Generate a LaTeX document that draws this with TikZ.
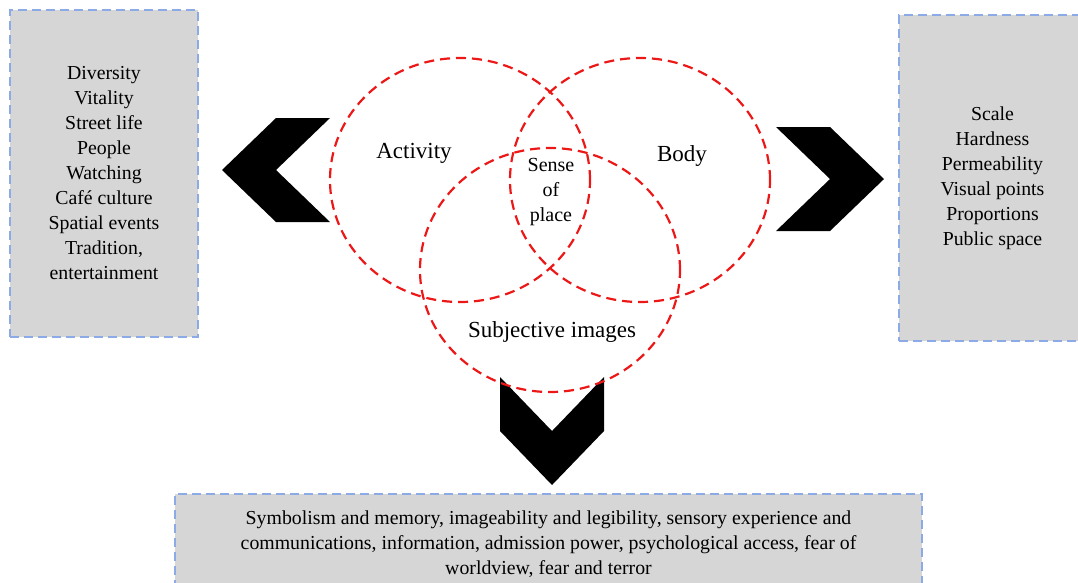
\documentclass[tikz,border=0pt]{standalone}
\usepackage{fontspec}
\setmainfont{Liberation Serif}
\usetikzlibrary{shapes.geometric}
\definecolor{boxgray}{RGB}{214,214,214}
\definecolor{boxblue}{RGB}{140,170,230}
\definecolor{ringred}{RGB}{236,24,24}
\tikzset{
  infobox/.style={draw=boxblue,fill=boxgray,line width=1.4pt,dash pattern=on 9pt off 5pt,inner sep=0pt,align=center,font=\fontsize{19.8}{25}\selectfont},
  ring/.style={ellipse,draw=ringred,line width=2.2pt,dash pattern=on 10pt off 6pt,minimum width=260pt,minimum height=244pt,inner sep=0pt},
  biglabel/.style={font=\fontsize{23}{27}\selectfont,align=center},
  smalllabel/.style={font=\fontsize{20}{25}\selectfont,align=center},
  pics/chevron/.style={code={
    \fill (0,0) -- (54,-52) -- (108,-52) -- (54,0) -- (108,52) -- (54,52) -- cycle;}}
}

\begin{document}
\begin{tikzpicture}[x=1pt,y=-1pt]
\useasboundingbox (0,0) rectangle (1078,582);
\clip (0,0) rectangle (1078,582);
% side and bottom boxes
\node[infobox,minimum width=188pt,minimum height=327pt] (activitybox) at (104,173.5)
  {Diversity\\Vitality\\Street life\\People\\Watching\\Café culture\\Spatial events\\Tradition,\\entertainment};
\node[infobox,minimum width=187pt,minimum height=326pt] (bodybox) at (992.5,178)
  {Scale\\Hardness\\Permeability\\Visual points\\Proportions\\Public space};
\node[infobox,minimum width=747pt,minimum height=100pt] (imagebox) at (548.5,544)
  {Symbolism and memory, imageability and legibility, sensory experience and\\
   communications, information, admission power, psychological access, fear of\\
   worldview, fear and terror};
% chevrons
\pic at (222,170) {chevron};
\pic[rotate=180] at (884,179) {chevron};
\pic[rotate=90] at (552,485) {chevron};
% venn rings
\node[ring] (activity) at (460,180) {};
\node[ring] (body) at (640,180) {};
\node[ring] (images) at (550,270) {};
\node[biglabel] (activitylbl) at (414,153) {Activity};
\node[biglabel] (bodylbl) at (682,156) {Body};
\node[smalllabel] (sense) at (551,192) {Sense\\of\\place};
\node[biglabel] (imageslbl) at (552,332) {Subjective images};
\end{tikzpicture}
\end{document}
